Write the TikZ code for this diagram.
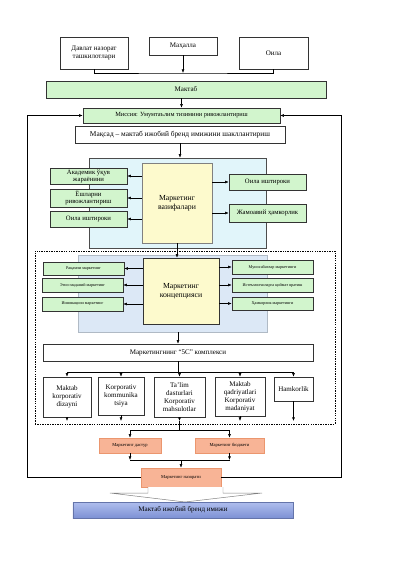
\documentclass[tikz,border=0pt]{standalone}
\usepackage{fontspec}
\setmainfont{Liberation Serif}
\usetikzlibrary{arrows.meta}

\definecolor{grnfill}{RGB}{210,245,205}
\definecolor{ylwfill}{RGB}{253,250,205}
\definecolor{cyanbg}{RGB}{225,245,250}
\definecolor{bluebg}{RGB}{220,232,246}
\definecolor{orgfill}{RGB}{248,180,150}
\definecolor{orgline}{RGB}{235,150,110}
\definecolor{brandtop}{RGB}{175,190,238}
\definecolor{brandbot}{RGB}{125,145,212}

\begin{document}
\begin{tikzpicture}[x=0.5mm, y=-0.5mm, line width=0.7pt,
    box/.style={draw=black!80, align=center, inner sep=1pt, font=\fontsize{10}{11.5}\selectfont},
    grnbox/.style={box, fill=grnfill},
    smallgrn/.style={grnbox, minimum width=40.5mm, font=\fontsize{6}{7}\selectfont},
    orgbox/.style={box, draw=orgline, fill=orgfill, font=\fontsize{6.5}{7}\selectfont},
    arr/.style={-{Latex[length=1.8mm,width=1.4mm]}}]
  \useasboundingbox (0,0) rectangle (400,566);

  % top row
  \node[box, minimum width=34mm, minimum height=16mm] (dav) at (94,53) {Давлат назорат\\ташкилотлари};
  \node[box, minimum width=34mm, minimum height=9mm] (mah) at (183,46) {Маҳалла};
  \node[box, minimum width=34.5mm, minimum height=16mm] (oila) at (273.5,53) {Оила};
  \node[grnbox, minimum width=140mm, minimum height=8.5mm] (maktab) at (186,89.5) {Мактаб};
  \node[grnbox, minimum width=98.5mm, minimum height=7.5mm, font=\fontsize{9}{10}\selectfont] (missiya) at (181.5,115.5) {Миссия: Умумтаълим тизимини ривожлантириш};
  \node[box, minimum width=105mm, minimum height=8.5mm, font=\fontsize{10.5}{12}\selectfont] (maqsad) at (180,134.5) {Мақсад – мактаб ижобий бренд имижини шакллантириш};

  % marketing tasks
  \node[draw=black!70, fill=cyanbg, minimum width=88.5mm, minimum height=45mm] (vazbg) at (177.5,203) {};
  \node[box, fill=ylwfill, draw=black!50, minimum width=35mm, minimum height=40mm, font=\fontsize{11}{13}\selectfont] (vaz) at (177,203) {Маркетинг\\вазифалари};
  \node[grnbox, minimum width=38.5mm, minimum height=8mm, font=\fontsize{9.5}{10}\selectfont] (akad) at (88.5,176) {Академик ўқув\\жараёнини};
  \node[grnbox, minimum width=38.5mm, minimum height=9mm, font=\fontsize{9.5}{10}\selectfont] (yosh) at (88.5,198) {Ёшларни\\ривожлантириш};
  \node[grnbox, minimum width=38.5mm, minimum height=8mm, font=\fontsize{9.5}{10}\selectfont] (oilal) at (88.5,219) {Оила иштироки};
  \node[grnbox, minimum width=38.5mm, minimum height=8mm, font=\fontsize{9.5}{10}\selectfont] (oilar) at (267.5,182) {Оила иштироки};
  \node[grnbox, minimum width=38.5mm, minimum height=9mm, font=\fontsize{9.5}{10}\selectfont] (jamoa) at (267.5,213) {Жамоавий ҳамкорлик};

  % marketing concept
  \node[draw, dashed, dash pattern=on 2pt off 1.5pt, minimum width=150mm, minimum height=86.5mm] (frame) at (185,337.5) {};
  \node[draw=bluebg!80!black, fill=bluebg, minimum width=94.5mm, minimum height=38.5mm] (consbg) at (172.5,293.5) {};
  \node[box, fill=ylwfill, minimum width=38mm, minimum height=33mm, font=\fontsize{11}{13}\selectfont] (cons) at (181,291) {Маркетинг\\концепцияси};
  \node[smallgrn, minimum height=6.5mm] (raqam) at (83.5,268.5) {Рақамли маркетинг};
  \node[smallgrn, minimum height=7mm] (etno) at (82.5,285) {Этно-маданий маркетинг};
  \node[smallgrn, minimum height=7mm] (innov) at (82.5,304) {Инновацион маркетинг};
  \node[smallgrn, minimum height=7mm] (munos) at (272.5,267) {Муносабатлар маркетинги};
  \node[smallgrn, minimum height=7mm] (isteam) at (272.5,285) {Истеъмолчиларга қиймат яратиш};
  \node[smallgrn, minimum height=6.5mm] (hamk) at (272.5,303.5) {Ҳамкорлик маркетинги};

  % 5C
  \node[box, minimum width=135mm, minimum height=8.5mm] (fivec) at (178,352.5) {Маркетингнинг “5C” комплекси};
  \node[box, minimum width=24mm, minimum height=20mm] (c1) at (67,397) {Maktab\\korporativ\\dizayni};
  \node[box, minimum width=23mm, minimum height=19mm] (c2) at (121,396) {Korporativ\\kommunika\\tsiya};
  \node[box, minimum width=25.5mm, minimum height=20mm] (c3) at (179.5,397) {Ta’lim\\dasturlari\\Korporativ\\mahsulotlar};
  \node[box, minimum width=25mm, minimum height=19.5mm] (c4) at (240,396.5) {Maktab\\qadriyatlari\\Korporativ\\madaniyat};
  \node[box, minimum width=19.5mm, minimum height=12mm] (c5) at (293.5,389) {Hamkorlik};

  % program, budget, control
  \node[orgbox, minimum width=31mm, minimum height=7.5mm] (dastur) at (130,445.5) {Маркетинг дастур};
  \node[orgbox, minimum width=34.5mm, minimum height=7.5mm] (budjet) at (229.5,445.5) {Маркетинг бюджети};
  \node[orgbox, minimum width=40mm, minimum height=9.5mm] (nazorat) at (181,477.5) {Маркетинг назорати};
  \draw[gray, fill=white] (148,487) -- (148,493) -- (110,493) -- (185,502) -- (262,493) -- (223,493) -- (223,487);
  \node[draw=brandbot!80!black, top color=brandtop, bottom color=brandbot, minimum width=110mm, minimum height=8mm, font=\fontsize{10}{11}\selectfont] (brand) at (183,510) {Мактаб ижобий бренд имижи};

  % connectors
  \coordinate (topbus) at (182,73);
  \draw (dav.south) |- (topbus) -| (oila.south);
  \draw[arr] (mah.south) -- (mah.south |- topbus);
  \draw[arr] (missiya.north |- maktab.south) -- (missiya.north);
  \draw[arr] (maqsad.south) -- (maqsad.south |- vazbg.north);
  \foreach \n in {akad,yosh,oilal} \draw[arr] (\n.east -| vaz.west) -- (\n.east);
  \foreach \n in {oilar,jamoa} \draw[arr] (\n.west -| vaz.east) -- (\n.west);
  \draw[arr] (vaz.south) -- (vaz.south |- cons.north);
  \foreach \n in {raqam,etno,innov} \draw[arr] (\n.east -| cons.west) -- (\n.east);
  \foreach \n in {munos,isteam,hamk} \draw[arr] (\n.west -| cons.east) -- (\n.west);
  \draw[arr] (fivec.north |- consbg.south) -- (fivec.north);

  \coordinate (cbus) at (0,372);
  \draw (fivec.south) -- (fivec.south |- cbus);
  \draw (c1.north |- cbus) -- (c5.north |- cbus);
  \foreach \i in {1,...,5} \draw[arr] (c\i.north |- cbus) -- (c\i.north);
  \coordinate (dbot) at (0,421);
  \foreach \i in {1,...,5} \draw[arr] (c\i.south) -- (c\i.south |- dbot);

  \coordinate (spl) at (0,430);
  \draw (c3.south |- dbot) -- (c3.south |- spl);
  \draw (dastur.north |- spl) -- (budjet.north |- spl);
  \draw[arr] (dastur.north |- spl) -- (dastur.north);
  \draw[arr] (budjet.north |- spl) -- (budjet.north);
  \coordinate (mrg) at (0,460);
  \draw[arr] (dastur.south) -- (dastur.south |- mrg);
  \draw[arr] (budjet.south) -- (budjet.south |- mrg);
  \draw (dastur.south |- mrg) -- (budjet.south |- mrg);
  \draw[arr] (nazorat.north |- mrg) -- (nazorat.north);

  % feedback
  \coordinate (fbl) at (27,0);
  \coordinate (fbr) at (341,0);
  \draw[arr] (nazorat.west) -- (nazorat.west -| fbl) |- (missiya.west);
  \draw[arr] (nazorat.east) -- (nazorat.east -| fbr) |- (missiya.east);
\end{tikzpicture}
\end{document}
